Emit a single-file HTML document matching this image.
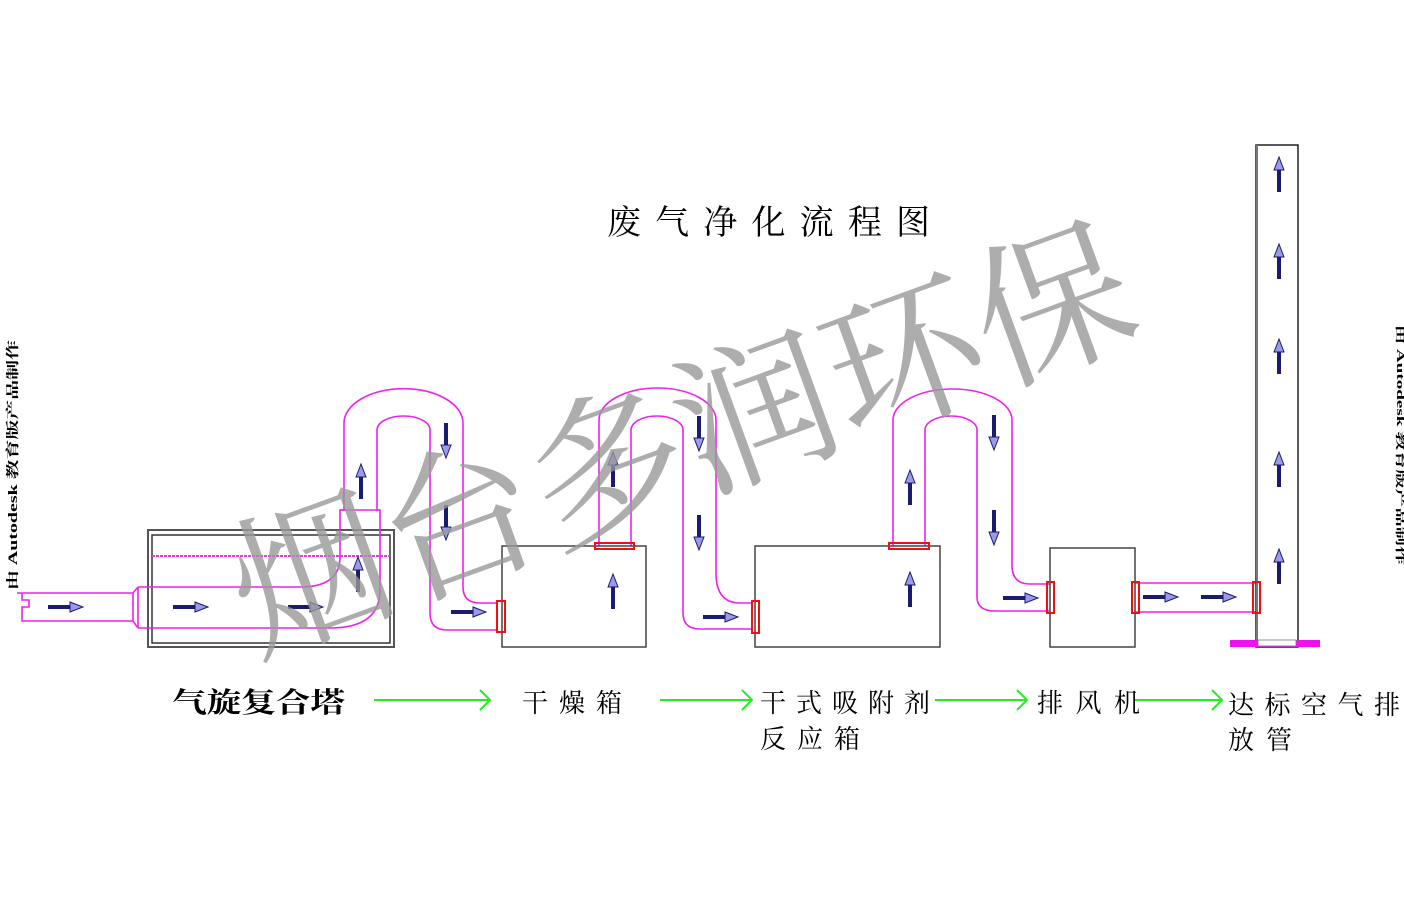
<!DOCTYPE html>
<html><head><meta charset="utf-8"><style>
html,body{margin:0;padding:0;background:#fff;}
svg{display:block;}
text{font-family:"Liberation Serif","Noto Serif CJK SC","Noto Sans CJK SC",serif;}
</style></head><body>
<svg width="1404" height="899" viewBox="0 0 1404 899" xmlns="http://www.w3.org/2000/svg">
<defs>
<g id="ar">
<rect x="-17" y="-2" width="24" height="4" fill="#1a1a70"/>
<path d="M5,-5 L18,0 L5,5 Z" fill="#9a9ae8" stroke="#1a1a70" stroke-width="1"/>
</g>
</defs>

<!-- title -->
<text x="607" y="234" font-size="34" textLength="323" lengthAdjust="spacing" fill="#000">废气净化流程图</text>

<!-- stamp text -->
<text transform="translate(17,590) rotate(-90)" font-size="13" font-weight="bold" fill="#000" textLength="250" lengthAdjust="spacingAndGlyphs" font-family="Liberation Sans, Noto Sans CJK SC, sans-serif">由 Autodesk 教育版产品制作</text>
<text transform="translate(1397,325) rotate(90)" font-size="11" font-weight="bold" fill="#000" textLength="240" lengthAdjust="spacingAndGlyphs" font-family="Liberation Sans, Noto Sans CJK SC, sans-serif">由 Autodesk 教育版产品制作</text>

<!-- tower box -->
<rect x="148" y="530" width="246" height="117" fill="none" stroke="#555" stroke-width="2"/>
<rect x="152" y="535" width="238" height="108" fill="none" stroke="#333" stroke-width="1.5"/>
<line x1="152" y1="556" x2="390" y2="556" stroke="#e040e0" stroke-width="2" stroke-dasharray="3,1"/>

<g fill="none" stroke="#f020f0" stroke-width="1.6">
<path d="M17,593 L22,593 L22,600 L29,600 L29,607 L22,607 L22,621 L133,621 L138,628 M17,593 L133,593 L138,587"/>
<line x1="133" y1="593" x2="133" y2="621"/>
<path d="M138,587 L300,587 Q340,587 340,557 L340,510 L344,510 L344,423 A59,34 0 0 1 463,423 L463,587 Q463,603 480,603 L497,603"/>
<path d="M138,628 L330,628 Q380,628 380,590 L380,510 L377,510 L377,430 A26.5,14 0 0 1 430,430 L430,613 Q430,630 447,630 L497,630"/>
<line x1="138" y1="587" x2="138" y2="628"/>
<line x1="340" y1="510" x2="380" y2="510"/>
<path d="M599,546 L599,420 A58.5,32 0 0 1 716,420 L716,573 Q716,603 740,603 L752,603"/>
<path d="M631,546 L631,430 A26,14 0 0 1 683,430 L683,613 Q683,629 700,629 L752,629"/>
<path d="M893,546 L893,420 A59.5,31 0 0 1 1012,420 L1012,565 Q1012,584 1030,584 L1050,584"/>
<path d="M925,546 L925,430 A26,14 0 0 1 977,430 L977,597 Q977,611 995,611 L1050,611"/>
<path d="M1135,583 L1256,583 M1135,612 L1256,612"/>
</g>

<rect x="502" y="546" width="144" height="101" fill="none" stroke="#444" stroke-width="1.5"/>
<rect x="755" y="546" width="185" height="101" fill="none" stroke="#444" stroke-width="1.5"/>
<rect x="1050" y="548" width="85" height="99" fill="none" stroke="#444" stroke-width="1.5"/>
<rect x="1256" y="145" width="42" height="502" fill="none" stroke="#222" stroke-width="1.5"/>
<line x1="1257" y1="145" x2="1257" y2="647" stroke="#777" stroke-width="2"/>
<rect x="1230" y="640" width="90" height="7" fill="#f010f0"/>
<rect x="1258" y="640" width="38" height="6" fill="#fff" stroke="#777" stroke-width="0.8"/>

<g fill="none" stroke="#f01010" stroke-width="2">
<rect x="497" y="601" width="8" height="31"/>
<rect x="595" y="543" width="39" height="6"/>
<rect x="752" y="601" width="7" height="32"/>
<rect x="889" y="543" width="40" height="6"/>
<rect x="1047" y="582" width="7" height="31"/>
<rect x="1132" y="582" width="7" height="31"/>
<rect x="1253" y="582" width="7" height="31"/>
</g>

<use href="#ar" transform="translate(65,607)"/>
<use href="#ar" transform="translate(190,607)"/>
<use href="#ar" transform="translate(305,607)"/>
<use href="#ar" transform="translate(468,612)"/>
<use href="#ar" transform="translate(720,617)"/>
<use href="#ar" transform="translate(1020,598)"/>
<use href="#ar" transform="translate(1160,597)"/>
<use href="#ar" transform="translate(1218,597)"/>
<use href="#ar" transform="translate(361,482) rotate(-90)"/>
<use href="#ar" transform="translate(358,575) rotate(-90)"/>
<use href="#ar" transform="translate(613,470) rotate(-90)"/>
<use href="#ar" transform="translate(613,592) rotate(-90)"/>
<use href="#ar" transform="translate(910,488) rotate(-90)"/>
<use href="#ar" transform="translate(910,590) rotate(-90)"/>
<use href="#ar" transform="translate(1279,175) rotate(-90)"/>
<use href="#ar" transform="translate(1279,262) rotate(-90)"/>
<use href="#ar" transform="translate(1279,357) rotate(-90)"/>
<use href="#ar" transform="translate(1279,470) rotate(-90)"/>
<use href="#ar" transform="translate(1279,567) rotate(-90)"/>
<use href="#ar" transform="translate(446,440) rotate(90)"/>
<use href="#ar" transform="translate(446,522) rotate(90)"/>
<use href="#ar" transform="translate(699,433) rotate(90)"/>
<use href="#ar" transform="translate(699,532) rotate(90)"/>
<use href="#ar" transform="translate(994,432) rotate(90)"/>
<use href="#ar" transform="translate(994,527) rotate(90)"/>

<!-- watermark -->
<text transform="translate(255,655) rotate(-20)" font-size="158" fill="#999" fill-opacity="0.8" font-family="Liberation Sans, Noto Sans CJK SC, sans-serif">烟台多润环保</text>

<g stroke="#22ee22" stroke-width="2" fill="none">
<path d="M374,700 L490,700 M480,690 L490,700 L480,710"/>
<path d="M660,700 L752,700 M742,690 L752,700 L742,710"/>
<path d="M935,700 L1027,700 M1017,690 L1027,700 L1017,710"/>
<path d="M1135,700 L1222,700 M1212,690 L1222,700 L1212,710"/>
</g>

<g fill="#000" font-size="26">
<text x="172" y="712" font-size="28" font-family="Liberation Sans, Noto Sans CJK SC, sans-serif" font-weight="bold" textLength="173" lengthAdjust="spacingAndGlyphs">气旋复合塔</text>
<text x="522" y="712" textLength="100" lengthAdjust="spacing">干燥箱</text>
<text x="760" y="712" textLength="170" lengthAdjust="spacing">干式吸附剂</text>
<text x="760" y="748" textLength="100" lengthAdjust="spacing">反应箱</text>
<text x="1037" y="712" textLength="103" lengthAdjust="spacing">排风机</text>
<text x="1228" y="714" textLength="172" lengthAdjust="spacing">达标空气排</text>
<text x="1228" y="749" textLength="64" lengthAdjust="spacing">放管</text>
</g>
</svg>
</body></html>
